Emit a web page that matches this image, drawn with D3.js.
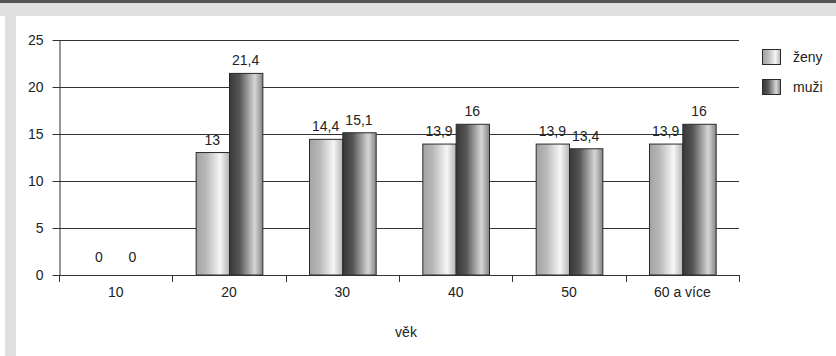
<!DOCTYPE html>
<html><head><meta charset="utf-8">
<script src="https://cdn.jsdelivr.net/npm/d3@7"></script>
<style>
html,body{margin:0;padding:0;background:#fff;}
text{font-family:"Liberation Sans",Arial,sans-serif;fill:#222;}
</style></head>
<body>
<svg id="c" width="836" height="356"></svg>
<script>
const categories = ["10","20","30","40","50","60 a více"];
const seriesNames = ["ženy","muži"];
const zeny = [0,13,14.4,13.9,13.9,13.9];
const muzi = [0,21.4,15.1,16,13.4,16];
const yTicks = [0,5,10,15,20,25];
const xTitle = "věk";

(function(){
const svg = d3.select("#c");
svg.append("rect").attr("x",0).attr("y",0).attr("width",836).attr("height",356).attr("fill","#fff");
svg.append("rect").attr("x",0).attr("y",0).attr("width",836).attr("height",16).attr("fill","#e0e0e0");
svg.append("rect").attr("x",5).attr("y",0).attr("width",11).attr("height",356).attr("fill","#e0e0e0");
svg.append("rect").attr("x",0).attr("y",0).attr("width",836).attr("height",3).attr("fill","#555");

const defs = svg.append("defs");
function grad(id, stops){
  const g = defs.append("linearGradient").attr("id",id).attr("x1","0%").attr("x2","100%").attr("y1","0%").attr("y2","0%");
  stops.forEach(s=>g.append("stop").attr("offset",s[0]).attr("stop-color",s[1]));
}
grad("gZ",[["0%","#a3a3a3"],["30%","#b8b8b8"],["72%","#f6f6f6"],["100%","#b4b4b4"]]);
grad("gM",[["0%","#383838"],["30%","#555"],["76%","#d6d6d6"],["100%","#858585"]]);
const fills = ["url(#gZ)","url(#gM)"];

const pL=59, pR=739, pT=39.5, pB=275;
const x0 = d3.scaleBand().domain(categories).range([pL,pR]).paddingInner(0).paddingOuter(0);
const x1 = d3.scaleBand().domain(seriesNames).range([0,x0.bandwidth()]).paddingInner(0).paddingOuter(0.7);
const y = d3.scaleLinear().domain([0,25]).range([pB,pT]);

svg.append("g").selectAll("line").data(yTicks.filter(t=>t>0)).join("line")
  .attr("x1",pL).attr("x2",pR).attr("y1",d=>Math.round(y(d))+0.5).attr("y2",d=>Math.round(y(d))+0.5)
  .attr("stroke","#333").attr("stroke-width",1);

const ya = svg.append("g").attr("transform",`translate(${pL+0.5},0)`)
  .call(d3.axisLeft(y).tickValues(yTicks).tickSize(7).tickSizeOuter(0).tickPadding(9).tickFormat(d=>d));
ya.select(".domain").attr("stroke","#333");
ya.selectAll(".tick line").attr("stroke","#333");
ya.selectAll(".tick").attr("transform",d=>`translate(0,${Math.round(y(d))+0.5})`);
ya.selectAll("text").attr("font-size",14).attr("fill","#222").attr("font-family","Liberation Sans, Arial, sans-serif");

const data = categories.map((c,i)=>({c, vals:[zeny[i],muzi[i]]}));
const groups = svg.append("g").selectAll("g").data(data).join("g")
  .attr("transform",d=>`translate(${x0(d.c)},0)`);
groups.selectAll("rect").data(d=>d.vals.map((v,j)=>({v,s:seriesNames[j],j})).filter(e=>e.v>0)).join("rect")
  .attr("x",d=>x1(d.s)+0.5).attr("width",x1.bandwidth())
  .attr("y",d=>y(d.v)).attr("height",d=>pB-y(d.v))
  .attr("fill",d=>fills[d.j]).attr("stroke","#2a2a2a").attr("stroke-width",1);
groups.selectAll("text").data(d=>d.vals.map((v,j)=>({v,s:seriesNames[j],j}))).join("text")
  .attr("x",d=>x1(d.s)+x1.bandwidth()/2).attr("y",d=>y(d.v)-(d.v===0?13:8))
  .attr("text-anchor","middle").attr("font-size",14)
  .text(d=>String(d.v).replace(".",","));

svg.append("line").attr("x1",pL).attr("x2",pR).attr("y1",pB+0.5).attr("y2",pB+0.5).attr("stroke","#333");
const bounds = categories.map(c=>x0(c)).concat([pR]);
svg.append("g").selectAll("line").data(bounds).join("line")
  .attr("x1",d=>Math.round(d)+0.5).attr("x2",d=>Math.round(d)+0.5).attr("y1",pB).attr("y2",pB+7).attr("stroke","#333");
const xa = svg.append("g").attr("transform",`translate(0,${pB})`)
  .call(d3.axisBottom(x0).tickSize(0).tickPadding(22));
xa.select(".domain").remove();
xa.selectAll("text").attr("font-size",14).attr("fill","#222").attr("font-family","Liberation Sans, Arial, sans-serif").attr("dy",0);
svg.append("text").attr("x",406).attr("y",337).attr("text-anchor","middle").attr("font-size",14).text(xTitle);

const lg = svg.append("g").selectAll("g").data(seriesNames).join("g")
  .attr("transform",(d,i)=>`translate(762,${49+i*30})`);
lg.append("rect").attr("x",0.5).attr("y",0.5).attr("width",18).attr("height",15)
  .attr("fill",(d,i)=>fills[i]).attr("stroke","#2a2a2a");
lg.append("text").attr("x",31).attr("y",13).attr("font-size",14).text(d=>d);
})();
</script>
</body></html>
